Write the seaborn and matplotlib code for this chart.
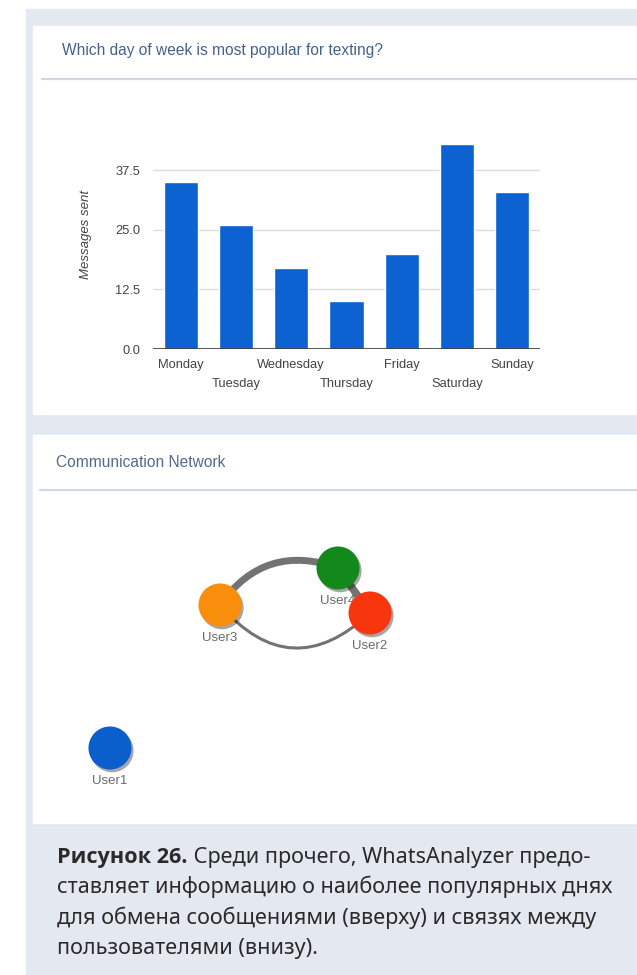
import numpy as np
import matplotlib
matplotlib.use("Agg")
import matplotlib.pyplot as plt
import matplotlib.patheffects as pe
from matplotlib.patches import Rectangle, PathPatch
from matplotlib.path import Path
import seaborn as sns

# bar chart data
days = ["Monday", "Tuesday", "Wednesday", "Thursday", "Friday", "Saturday", "Sunday"]
messages = [35, 26, 17, 10, 20, 43, 33]
y_ticks = [0.0, 12.5, 25.0, 37.5]
y_tick_labels = ["0.0", "12.5", "25.0", "37.5"]

# communication network (layout coordinates as in the screenshot)
node_names = ["User1", "User4", "User3", "User2"]
node_x = [110, 338, 220, 370]
node_y = [748, 568, 605, 613]
node_colors = ["#0b5fcc", "#12891a", "#f98e0c", "#f8360e"]
edge_src = ["User3", "User3", "User4"]
edge_dst = ["User4", "User2", "User2"]
edge_weight = [5.0, 2.2, 5.5]
edge_bend = [-0.38, 0.52, 0.0]

caption_bold = "Рисунок 26."
caption_lines = [
    " Среди прочего, WhatsAnalyzer предо-",
    "ставляет информацию о наиболее популярных днях",
    "для обмена сообщениями (вверху) и связях между",
    "пользователями (внизу).",
]

W, H = 637, 975
PAGE = "#e4e8f0"
UI_FONT = ["Liberation Sans", "DejaVu Sans"]

sns.set_style("white")
plt.rcParams["font.family"] = UI_FONT


def px_box(x, y, w, h):
    return [x / W, 1 - (y + h) / H, w / W, h / H]


fig = plt.figure(figsize=(W / 100, H / 100), dpi=100)
fig.patch.set_facecolor("white")

# page background drawn in pixel coordinates
bg = fig.add_axes([0, 0, 1, 1])
bg.set_xlim(0, W)
bg.set_ylim(H, 0)
bg.axis("off")
bg.add_patch(Rectangle((26, 9), W - 26, H - 9, color=PAGE, zorder=0))
bg.add_patch(Rectangle((33, 26), W - 33, 388, color="white", zorder=0.1))
bg.add_patch(Rectangle((33, 435), W - 33, 388, color="white", zorder=0.1))
bg.plot([42, W], [79, 79], color="#cfd7e0", lw=1.6, zorder=0.2)
bg.plot([40, W], [490, 490], color="#cfd7e0", lw=1.6, zorder=0.2)

bg.text(62, 55, "Which day of week is most popular for texting?",
        fontsize=11.2, color="#46628c", va="baseline")
bg.text(56, 467, "Communication Network",
        fontsize=11.2, color="#55698a", va="baseline")

# ---- bar chart ----
ax = fig.add_axes(px_box(153, 120, 387, 229))
sns.barplot(x=days, y=messages, color="#0b62d0", saturation=1,
            width=0.62, ax=ax, zorder=2)
ax.set_xlim(-0.5, 6.5)
ax.set_ylim(0, 48)
ax.set_yticks(y_ticks)
ax.set_yticklabels(y_tick_labels)
ax.yaxis.grid(True, color="#dcdcdc", lw=1)
ax.set_axisbelow(True)
ax.axhline(0, color="#3a3a3a", lw=1.2, zorder=3)
for s in ax.spines.values():
    s.set_visible(False)
ax.set_facecolor("none")
ax.tick_params(axis="y", length=0, pad=9, labelsize=9.3, labelcolor="#444444")
ax.tick_params(axis="x", length=0, pad=7, labelsize=9.3, labelcolor="#444444")
for i, lab in enumerate(ax.get_xticklabels()):
    if i % 2 == 1:
        lab.set_y(-19 / 229)
ax.set_xlabel("")
ax.set_ylabel("Messages sent", fontsize=9.5, style="italic",
              color="#444444", labelpad=17)

# ---- network ----
pos = {n: (x, y) for n, x, y in zip(node_names, node_x, node_y)}
for a, b, w, bend in zip(edge_src, edge_dst, edge_weight, edge_bend):
    p0 = np.array(pos[a], float)
    p2 = np.array(pos[b], float)
    d = p2 - p0
    L = np.hypot(*d)
    n = np.array([-d[1], d[0]]) / L
    c = (p0 + p2) / 2 + bend * L * n
    path = Path([p0, c, p2], [Path.MOVETO, Path.CURVE3, Path.CURVE3])
    bg.add_patch(PathPatch(path, fc="none", ec="#737373", lw=w,
                           capstyle="round", zorder=1))

for name, x, y in zip(node_names, node_x, node_y):
    bg.text(x, y + 33, name, fontsize=9.5, color="#6a6a6a",
            ha="center", va="center", zorder=1.5)

sns.scatterplot(x=node_x, y=node_y, hue=node_names, palette=node_colors,
                s=960, linewidth=0, legend=False, ax=bg, zorder=2)
bg.collections[-1].set_path_effects([
    pe.SimplePatchShadow(offset=(1.5, -2), shadow_rgbFace="#000000", alpha=0.35),
    pe.Normal(),
])
bg.set_xlim(0, W)
bg.set_ylim(H, 0)
bg.axis("off")

# ---- caption ----
cap_font = ["Open Sans", "Noto Sans", "DejaVu Sans"]
renderer = fig.canvas.get_renderer()
t_bold = bg.text(57, 863, caption_bold, fontsize=15.6, fontweight="bold",
                 family=cap_font, color="#2a2a2a", va="baseline")
bb = t_bold.get_window_extent(renderer)
x_end = bg.transData.inverted().transform((bb.x1, bb.y0))[0]
for i, line in enumerate(caption_lines):
    x0 = x_end if i == 0 else 57
    bg.text(x0, 863 + i * 30.4, line, fontsize=15.6, family=["Noto Sans", "DejaVu Sans"],
            color="#2a2a2a", va="baseline")

fig.savefig("out.png", dpi=100)
